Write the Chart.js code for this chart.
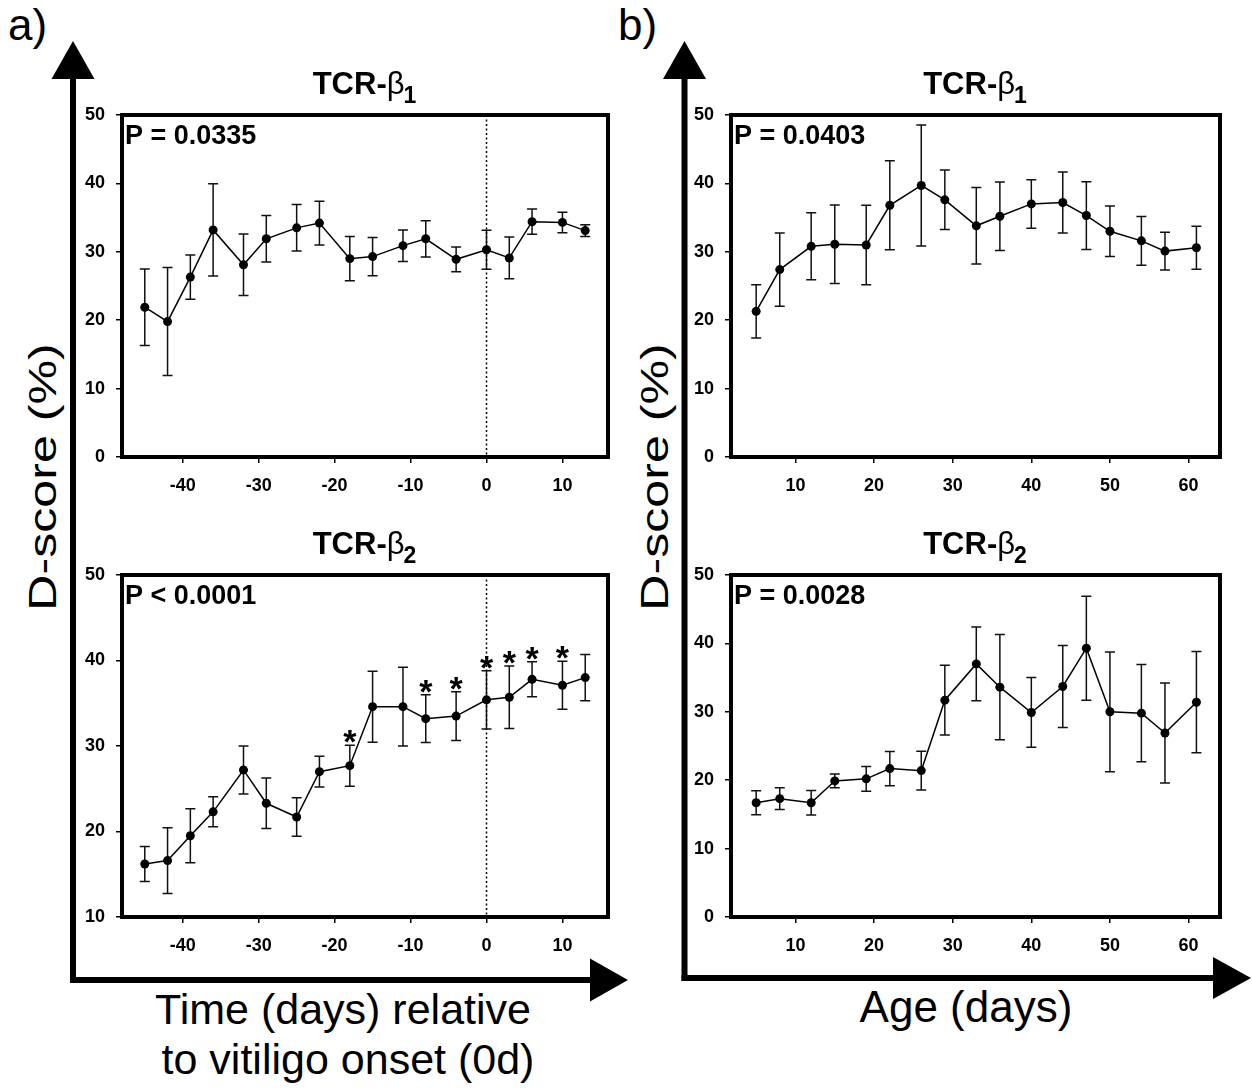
<!DOCTYPE html>
<html>
<head>
<meta charset="utf-8">
<script src="https://cdn.jsdelivr.net/npm/chart.js@4.4.1/dist/chart.umd.min.js"></script>
<style>
  html, body { margin: 0; padding: 0; background: #fff; }
  #wrap { position: relative; width: 1252px; height: 1090px; overflow: hidden; background: #fff; }
  #wrap canvas { position: absolute; }
  #deco { position: absolute; left: 0; top: 0; }
  text { font-family: "Liberation Sans", Arial, sans-serif; fill: #000; }
</style>
</head>
<body>
<div id="wrap">
<svg id="deco" width="1252" height="1090" xmlns="http://www.w3.org/2000/svg">
  <!-- panel a axes arrows -->
  <line x1="73" y1="76" x2="73" y2="983" stroke="#000" stroke-width="6"/>
  <line x1="70" y1="980" x2="592" y2="980" stroke="#000" stroke-width="6"/>
  <polygon points="73,41 51.5,79 94.5,79" fill="#000"/>
  <polygon points="628,980 590,958.5 590,1001.5" fill="#000"/>
  <!-- panel b axes arrows -->
  <line x1="684.5" y1="76" x2="684.5" y2="981" stroke="#000" stroke-width="6"/>
  <line x1="681.5" y1="978" x2="1215" y2="978" stroke="#000" stroke-width="6"/>
  <polygon points="684.5,41 663,79 706,79" fill="#000"/>
  <polygon points="1251,978 1213,957 1213,999" fill="#000"/>
  <!-- panel letters -->
  <text x="8" y="40" font-size="44">a)</text>
  <text x="618" y="40" font-size="44">b)</text>
  <!-- y titles -->
  <text transform="translate(56,477) rotate(-90) scale(1.32,1)" text-anchor="middle" font-size="38">D-score (%)</text>
  <text transform="translate(668,477) rotate(-90) scale(1.32,1)" text-anchor="middle" font-size="38">D-score (%)</text>
  <!-- x titles -->
  <text x="343" y="1024" text-anchor="middle" font-size="43">Time (days) relative</text>
  <text x="348" y="1074" text-anchor="middle" font-size="43">to vitiligo onset (0d)</text>
  <text x="966" y="1022" text-anchor="middle" font-size="44">Age (days)</text>
</svg>
</div>
<script>
// ---------------- data ----------------
const daysRel = [-45, -42, -39, -36, -32, -29, -25, -22, -18, -15, -11, -8, -4, 0, 3, 6, 10, 13];
const tcrB1Rel    = [21.9, 19.8, 26.3, 33.2, 28.1, 31.9, 33.5, 34.2, 29.0, 29.3, 30.9, 31.9, 28.9, 30.3, 29.1, 34.4, 34.3, 33.1];
const tcrB1RelErr = [5.6, 7.9, 3.25, 6.75, 4.5, 3.4, 3.4, 3.2, 3.25, 2.8, 2.3, 2.65, 1.8, 2.85, 3.05, 1.85, 1.5, 0.85];
const tcrB2Rel    = [16.2, 16.6, 19.5, 22.3, 27.2, 23.3, 21.7, 27.0, 27.7, 34.6, 34.6, 33.2, 33.5, 35.4, 35.7, 37.8, 37.1, 38.0];
const tcrB2RelErr = [2.05, 3.85, 3.15, 1.75, 2.8, 2.95, 2.25, 1.8, 2.4, 4.15, 4.6, 2.8, 2.85, 3.4, 3.65, 2.05, 2.8, 2.7];
const sigDaysB2 = [-18, -8, -4, 0, 3, 6, 10];

const ages = [5, 8, 12, 15, 19, 22, 26, 29, 33, 36, 40, 44, 47, 50, 54, 57, 61];
const tcrB1Age    = [21.3, 27.4, 30.8, 31.1, 31.0, 36.8, 39.7, 37.6, 33.8, 35.2, 37.0, 37.2, 35.3, 33.0, 31.6, 30.1, 30.6];
const tcrB1AgeErr = [3.9, 5.35, 4.9, 5.75, 5.8, 6.5, 8.85, 4.35, 5.6, 5.0, 3.55, 4.45, 4.95, 3.7, 3.55, 2.75, 3.15];
const tcrB2Age    = [16.7, 17.3, 16.7, 19.9, 20.2, 21.7, 21.4, 31.7, 37.0, 33.6, 29.9, 33.7, 39.3, 30.0, 29.8, 26.9, 31.4];
const tcrB2AgeErr = [1.75, 1.6, 1.8, 1.0, 1.8, 2.5, 2.85, 5.1, 5.4, 7.7, 5.1, 6.0, 7.6, 8.75, 7.1, 7.3, 7.4];

const relTicks = [-40, -30, -20, -10, 0, 10];
const ageTicks = [10, 20, 30, 40, 50, 60];
const yTicksFrom0 = [0, 10, 20, 30, 40, 50];
const yTicksFrom10 = [10, 20, 30, 40, 50];
const panelTitles = ['TCR-β', 'TCR-β', 'TCR-β', 'TCR-β'];
const panelSubs = ['1', '2', '1', '2'];
const pValues = ['P = 0.0335', 'P < 0.0001', 'P = 0.0403', 'P = 0.0028'];
const onsetDay = 0;

// ---------------- drawing helpers ----------------
const FAM = '"Liberation Sans", Arial, sans-serif';

const panelPlugin = {
  id: 'panel',
  beforeDatasetsDraw(chart) {
    const o = chart.options.plugins.panel;
    const ctx = chart.ctx, xs = chart.scales.x, ys = chart.scales.y, ca = chart.chartArea;
    ctx.save();
    // vertical dotted onset line
    if (o.vline !== null && o.vline !== undefined) {
      const px = xs.getPixelForValue(o.vline);
      ctx.strokeStyle = '#000';
      ctx.lineWidth = 1.5;
      ctx.setLineDash([2, 2.5]);
      ctx.beginPath();
      ctx.moveTo(px, ca.top);
      ctx.lineTo(px, ca.bottom);
      ctx.stroke();
      ctx.setLineDash([]);
    }
    // error bars
    ctx.strokeStyle = '#111';
    ctx.lineWidth = 1.5;
    o.xVals.forEach((xv, i) => {
      const px = xs.getPixelForValue(xv);
      const top = ys.getPixelForValue(o.means[i] + o.errs[i]);
      const bot = ys.getPixelForValue(o.means[i] - o.errs[i]);
      ctx.beginPath();
      ctx.moveTo(px, top); ctx.lineTo(px, bot);
      ctx.moveTo(px - 5, top); ctx.lineTo(px + 5, top);
      ctx.moveTo(px - 5, bot); ctx.lineTo(px + 5, bot);
      ctx.stroke();
    });
    ctx.restore();
  },
  afterDraw(chart) {
    const o = chart.options.plugins.panel;
    const ctx = chart.ctx, xs = chart.scales.x, ys = chart.scales.y, ca = chart.chartArea;
    ctx.save();
    // frame
    ctx.strokeStyle = '#000';
    ctx.lineWidth = 4;
    ctx.strokeRect(ca.left, ca.top, ca.right - ca.left, ca.bottom - ca.top);
    // title with subscript
    const base = ca.top - 21;
    const cx = (ca.left + ca.right) / 2;
    const fMain = 'bold 31px ' + FAM, fBeta = '31px ' + FAM, fSub = 'bold 23px ' + FAM;
    const head = o.title.slice(0, -1), beta = o.title.slice(-1);
    ctx.font = fMain; const w1 = ctx.measureText(head).width;
    ctx.font = fBeta; const w2 = ctx.measureText(beta).width;
    ctx.font = fSub; const w3 = ctx.measureText(o.sub).width;
    let x0 = cx - (w1 + w2 + w3) / 2;
    ctx.fillStyle = '#000';
    ctx.textBaseline = 'alphabetic';
    ctx.textAlign = 'left';
    ctx.font = fMain; ctx.fillText(head, x0, base);
    ctx.font = fBeta; ctx.fillText(beta, x0 + w1, base);
    ctx.font = fSub; ctx.fillText(o.sub, x0 + w1 + w2 - 1, base + 9);
    // P value
    ctx.font = 'bold 27px ' + FAM;
    ctx.fillText(o.p, ca.left + 3, ca.top + 28.5);
    // significance stars
    if (o.stars) {
      ctx.font = 'bold 34px ' + FAM;
      ctx.textAlign = 'center';
      o.stars.forEach(d => {
        const i = o.xVals.indexOf(d);
        if (i < 0) return;
        const px = xs.getPixelForValue(d);
        const top = ys.getPixelForValue(o.means[i] + o.errs[i]);
        ctx.fillText('*', px, top + 8);
      });
    }
    ctx.restore();
  }
};

function makePanel(box, xVals, means, errs, xr, xTicks, yr, yTicks, title, sub, p, vline, stars) {
  const cv = document.createElement('canvas');
  cv.width = box.w; cv.height = box.h;
  cv.style.left = box.left + 'px'; cv.style.top = box.top + 'px';
  cv.style.width = box.w + 'px'; cv.style.height = box.h + 'px';
  document.getElementById('wrap').appendChild(cv);
  const tickFont = { family: FAM, size: 18, weight: 'bold' };
  new Chart(cv, {
    type: 'line',
    data: {
      datasets: [{
        data: xVals.map((x, i) => ({ x: x, y: means[i] })),
        borderColor: '#000',
        borderWidth: 1.5,
        pointRadius: 4.5,
        pointBackgroundColor: '#000',
        pointBorderColor: '#000',
        pointBorderWidth: 0,
        tension: 0,
        fill: false
      }]
    },
    options: {
      responsive: false,
      animation: false,
      devicePixelRatio: 1,
      layout: { padding: { left: 0, top: box.padTop, right: box.padRight, bottom: 0 } },
      scales: {
        x: {
          type: 'linear', position: 'bottom', min: xr[0], max: xr[1],
          afterBuildTicks: s => { s.ticks = xTicks.map(v => ({ value: v })); },
          afterFit: s => { s.height = box.xh; },
          grid: { drawOnChartArea: false, drawTicks: true, tickLength: 6, color: '#000', lineWidth: 1.5 },
          border: { display: false },
          ticks: { font: tickFont, color: '#000', padding: 12, maxRotation: 0, autoSkip: false }
        },
        y: {
          type: 'linear', position: 'left', min: yr[0], max: yr[1],
          afterBuildTicks: s => { s.ticks = yTicks.map(v => ({ value: v })); },
          afterFit: s => { s.width = box.yw; },
          grid: { drawOnChartArea: false, drawTicks: true, tickLength: 6, color: '#000', lineWidth: 1.5 },
          border: { display: false },
          ticks: { font: tickFont, color: '#000', padding: 11, autoSkip: false }
        }
      },
      plugins: {
        legend: { display: false },
        tooltip: { enabled: false },
        panel: { xVals, means, errs, title, sub, p, vline, stars }
      }
    },
    plugins: [panelPlugin]
  });
}

const boxA1 = { left: 40, top: 60, w: 600, h: 460, padTop: 55, padRight: 32, yw: 82, xh: 63 };
const boxA2 = { left: 40, top: 520, w: 600, h: 460, padTop: 55, padRight: 32, yw: 82, xh: 63 };
const boxB1 = { left: 650, top: 60, w: 600, h: 460, padTop: 55, padRight: 30, yw: 81, xh: 63 };
const boxB2 = { left: 650, top: 520, w: 600, h: 460, padTop: 55, padRight: 30, yw: 81, xh: 63 };

makePanel(boxA1, daysRel, tcrB1Rel, tcrB1RelErr, [-48, 16], relTicks, [0, 50], yTicksFrom0, panelTitles[0], panelSubs[0], pValues[0], onsetDay, null);
makePanel(boxA2, daysRel, tcrB2Rel, tcrB2RelErr, [-48, 16], relTicks, [10, 50], yTicksFrom10, panelTitles[1], panelSubs[1], pValues[1], onsetDay, sigDaysB2);
makePanel(boxB1, ages, tcrB1Age, tcrB1AgeErr, [1.8, 64], ageTicks, [0, 50], yTicksFrom0, panelTitles[2], panelSubs[2], pValues[2], null, null);
makePanel(boxB2, ages, tcrB2Age, tcrB2AgeErr, [1.8, 64], ageTicks, [0, 50], yTicksFrom0, panelTitles[3], panelSubs[3], pValues[3], null, null);
</script>
</body>
</html>
